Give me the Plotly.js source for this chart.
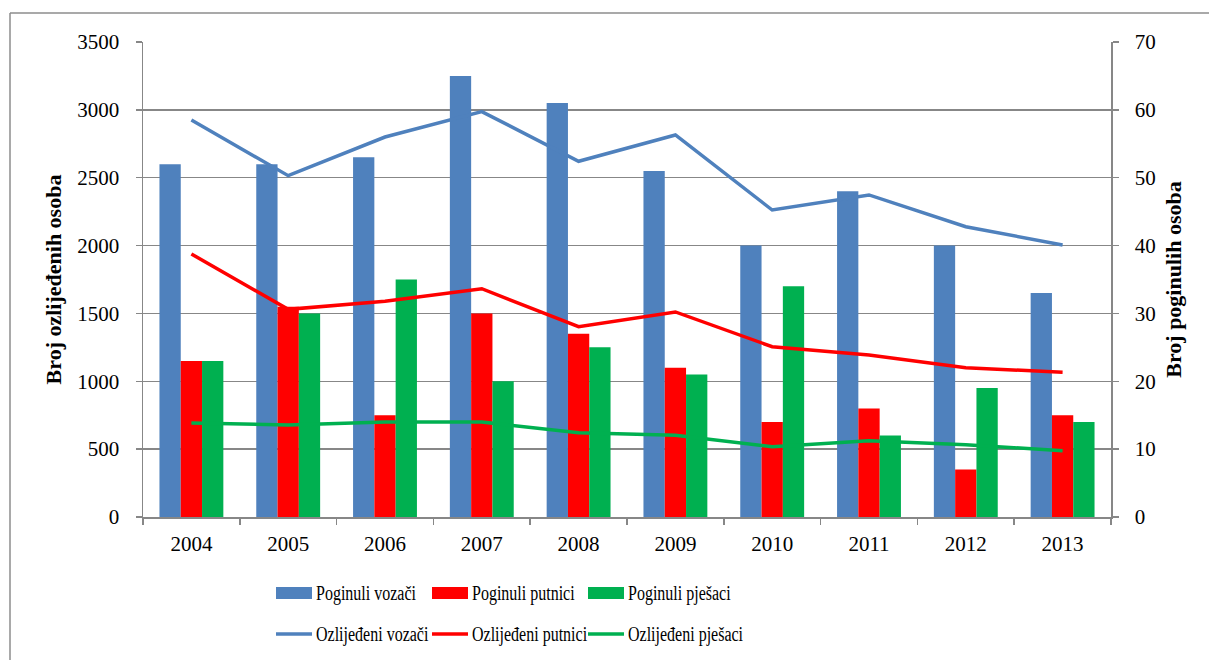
<!DOCTYPE html>
<html>
<head>
<meta charset="utf-8">
<script src="https://cdn.plot.ly/plotly-3.0.1.min.js"></script>
<style>
html,body{margin:0;padding:0;background:#fff;}
#chart{width:1209px;height:660px;}
</style>
</head>
<body>
<div id="chart"></div>
<script>
// ---- data ----
var years = ["2004","2005","2006","2007","2008","2009","2010","2011","2012","2013"];
var poginuliVozaci   = [52, 52, 53, 65, 61, 51, 40, 48, 40, 33];
var poginuliPutnici  = [23, 31, 15, 30, 27, 22, 14, 16, 7, 15];
var poginuliPjesaci  = [23, 30, 35, 20, 25, 21, 34, 12, 19, 14];
var ozlijedjeniVozaci  = [2925, 2515, 2800, 2987, 2621, 2815, 2262, 2373, 2139, 2004];
var ozlijedjeniPutnici = [1938, 1530, 1590, 1682, 1402, 1511, 1255, 1194, 1100, 1066];
var ozlijedjeniPjesaci = [693, 678, 700, 700, 621, 602, 518, 562, 533, 489];
var barNames  = ["Poginuli vozači", "Poginuli putnici", "Poginuli pješaci"];
var lineNames = ["Ozlijeđeni vozači", "Ozlijeđeni putnici", "Ozlijeđeni pješaci"];
var leftTitle  = "Broj ozlijeđenih osoba";
var rightTitle = "Broj poginulih osoba";

var colors = ["#4F81BD", "#FF0000", "#00B050"];
var barData  = [poginuliVozaci, poginuliPutnici, poginuliPjesaci];
var lineData = [ozlijedjeniVozaci, ozlijedjeniPutnici, ozlijedjeniPjesaci];

var traces = [];
barData.forEach(function(d, i){
  traces.push({type:"bar", x:years, y:d, name:barNames[i], yaxis:"y",
    marker:{color:colors[i], line:{width:0}}, showlegend:false});
});
lineData.forEach(function(d, i){
  traces.push({type:"scatter", mode:"lines", x:years, y:d, name:lineNames[i], yaxis:"y2",
    line:{color:colors[i], width:3.5}, showlegend:false});
});

// plot area in px
var L = 143, R = 1111, T = 42, B = 517, W = 1209, H = 660;
function px(x){ return (x - L) / (R - L); }
function py(y){ return (B - y) / (B - T); }

var gridCol = "#878787";
var fontFam = "Liberation Serif, Times New Roman, serif";

var shapes = [], annotations = [];
// outer frame (top & left)
shapes.push({type:"line", xref:"paper", yref:"paper", x0:px(10), x1:px(W+5), y0:py(13), y1:py(13), line:{color:"#8c8c8c", width:1.5}});
shapes.push({type:"line", xref:"paper", yref:"paper", x0:px(10), x1:px(10), y0:py(13), y1:py(H+5), line:{color:"#8c8c8c", width:1.5}});

// custom legend
var colX = [276, 432, 588];
var rowY = [593, 634];
for (var i = 0; i < 3; i++) {
  shapes.push({type:"rect", xref:"paper", yref:"paper", x0:px(colX[i]), x1:px(colX[i]+36),
    y0:py(rowY[0]-6), y1:py(rowY[0]+6), fillcolor:colors[i], line:{width:0}});
  annotations.push({xref:"paper", yref:"paper", x:px(colX[i]+38), y:py(rowY[0]), xanchor:"left", yanchor:"middle",
    text:barNames[i], showarrow:false, font:{family:fontFam, size:20, color:"#000"}});
  shapes.push({type:"line", xref:"paper", yref:"paper", x0:px(colX[i]), x1:px(colX[i]+36),
    y0:py(rowY[1]), y1:py(rowY[1]), line:{color:colors[i], width:3.5}});
  annotations.push({xref:"paper", yref:"paper", x:px(colX[i]+38), y:py(rowY[1]), xanchor:"left", yanchor:"middle",
    text:lineNames[i], showarrow:false, font:{family:fontFam, size:20, color:"#000"}});
}

var layout = {
  width: W, height: H,
  margin: {l: L, r: W - R, t: T, b: H - B, pad: 0},
  paper_bgcolor: "#fff", plot_bgcolor: "#fff",
  barmode: "group", bargap: 0.34, bargroupgap: 0,
  showlegend: false,
  font: {family: fontFam, size: 21, color: "#000"},
  xaxis: {type:"category", showline:true, linecolor:gridCol, linewidth:1.5, ticks:"outside", ticklen:6,
    tickcolor:gridCol, tickwidth:1.5, tickson:"boundaries", showgrid:false, ticklabelstandoff:7,
    tickfont:{family:fontFam, size:21, color:"#000"}},
  yaxis: {side:"right", range:[0,70], dtick:10, showline:true, linecolor:gridCol, linewidth:1.5,
    ticks:"outside", ticklen:6, tickcolor:gridCol, tickwidth:1.5, showgrid:true, gridcolor:gridCol, gridwidth:1.3,
    zeroline:false, ticklabelstandoff:12, tickfont:{family:fontFam, size:21, color:"#000"},
    title:{text:rightTitle, font:{family:fontFam, size:22, color:"#000", weight:"bold"}, standoff:11}},
  yaxis2: {side:"left", overlaying:"y", range:[0,3500], dtick:500, showline:true, linecolor:gridCol, linewidth:1.5,
    ticks:"outside", ticklen:6, tickcolor:gridCol, tickwidth:1.5, showgrid:false, zeroline:false,
    ticklabelstandoff:12, tickfont:{family:fontFam, size:21, color:"#000"},
    title:{text:leftTitle, font:{family:fontFam, size:22, color:"#000", weight:"bold"}, standoff:9}},
  shapes: shapes,
  annotations: annotations
};

Plotly.newPlot("chart", traces, layout, {displayModeBar:false, staticPlot:true}).then(function(gd){
  // condense legend text horizontally (reference uses a narrow serif face)
  var texts = gd.querySelectorAll("text.annotation-text");
  texts.forEach(function(t){
    var b = t.getBBox();
    var x0 = b.x;
    var existing = t.getAttribute("transform") || "";
    t.setAttribute("transform", existing + " translate(" + x0 + ",0) scale(0.8,1) translate(" + (-x0) + ",0)");
  });
});
</script>
</body>
</html>
